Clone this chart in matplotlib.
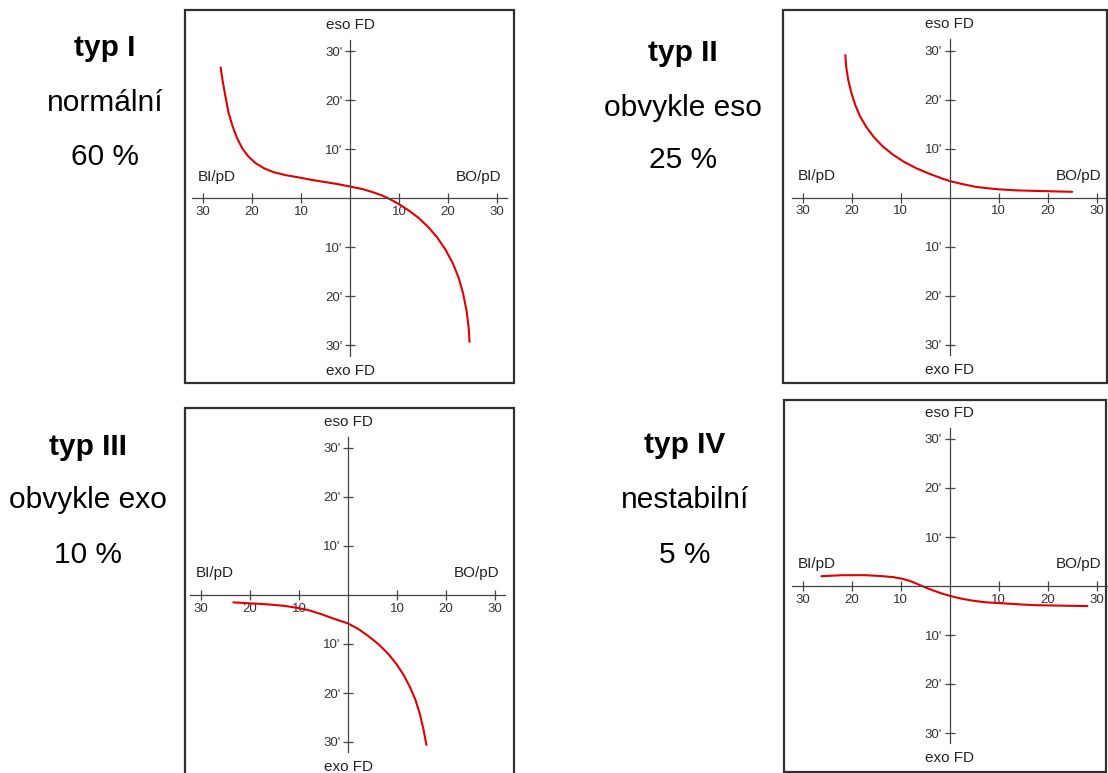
import matplotlib
matplotlib.use("Agg")
import matplotlib.pyplot as plt
from matplotlib.patches import Rectangle

plt.rcParams['font.family'] = ['Liberation Sans', 'DejaVu Sans']

W, H = 1108, 773

# labels next to each chart
titles = ["typ I", "typ II", "typ III", "typ IV"]
descriptions = ["normální", "obvykle eso", "obvykle exo", "nestabilní"]
percents = ["60 %", "25 %", "10 %", "5 %"]

# axis ticks (prism dioptres), shown without sign
xticks = [-30, -20, -10, 10, 20, 30]
xticklabels = ["30", "20", "10", "10", "20", "30"]
yticks = [-30, -20, -10, 10, 20, 30]
yticklabels = ["30'", "20'", "10'", "10'", "20'", "30'"]

# curves: x = BI(-)/BO(+) prism, y = eso(+)/exo(-) fixation disparity
typ1_x = [-26.4, -26.0, -25.4, -24.8, -24.0, -23.1, -22.0, -20.8, -19.3, -17.5, -15.5, -13.0,
          -10.1, -7.5, -5.0, -2.5, 0.0, 2.5, 4.5, 6.5, 8.0, 10.0, 12.0, 14.0, 16.0, 17.8,
          19.5, 21.0, 22.2, 23.1, 23.8, 24.2, 24.4]
typ1_y = [26.7, 24.0, 20.7, 17.5, 14.8, 12.4, 10.2, 8.6, 7.2, 6.1, 5.3, 4.7,
          4.2, 3.7, 3.3, 2.9, 2.4, 1.9, 1.3, 0.6, -0.1, -1.2, -2.5, -4.0, -5.9, -8.0,
          -10.5, -13.3, -16.3, -19.5, -23.0, -26.3, -29.3]

typ2_x = [-21.3, -21.1, -20.7, -20.1, -19.3, -18.3, -17.0, -15.5, -13.7, -11.6, -9.3, -6.8,
          -4.2, -1.5, 0.0, 2.5, 5.4, 8.0, 10.2, 13.5, 17.0, 21.0, 25.0]
typ2_y = [29.1, 26.5, 24.0, 21.5, 19.0, 16.6, 14.4, 12.4, 10.5, 8.8, 7.3, 6.0,
          4.9, 3.9, 3.4, 2.8, 2.2, 1.9, 1.7, 1.5, 1.4, 1.3, 1.2]

typ3_x = [-23.4, -20.0, -16.5, -13.1, -10.5, -8.0, -5.5, -3.0, 0.0, 2.2, 4.3, 6.3, 8.2,
          9.9, 11.4, 12.7, 13.8, 14.7, 15.4, 16.0]
typ3_y = [-1.5, -1.7, -1.9, -2.2, -2.6, -3.1, -3.9, -4.8, -5.8, -7.0, -8.5, -10.1, -12.0,
          -14.1, -16.4, -18.9, -21.5, -24.4, -27.4, -30.6]

typ4_x = [-26.2, -22.0, -17.0, -13.6, -11.5, -9.8, -8.3, -6.8, -5.2, -3.4, -1.7, 0.0,
          2.0, 4.1, 7.0, 10.2, 13.5, 17.0, 22.0, 28.1]
typ4_y = [2.0, 2.2, 2.2, 2.0, 1.8, 1.5, 1.1, 0.5, -0.2, -0.9, -1.5, -2.0,
          -2.5, -2.9, -3.3, -3.5, -3.7, -3.9, -4.0, -4.1]

curves = [(typ1_x, typ1_y), (typ2_x, typ2_y), (typ3_x, typ3_y), (typ4_x, typ4_y)]

# layout in pixels: box (left, top, right, bottom), origin (x, y), text centre x, text rows y
boxes = [(184.5, 10, 514, 383), (783.5, 10, 1107, 383), (184.5, 408, 514, 782), (784, 400, 1106, 772)]
origins = [(350, 198.3), (949.7, 197.7), (348, 595), (949.7, 586)]
text_x = [105, 683, 88, 685]
text_y = [(48, 103, 157), (53, 108, 160), (447, 500, 555), (445, 500, 555)]
ppu = 4.9  # pixels per unit

fig = plt.figure(figsize=(W / 100, H / 100), dpi=100)
axcol = "#444444"

for i in range(4):
    l, t, r, b = boxes[i]
    ox, oy = origins[i]
    ax = fig.add_axes([l / W, 1 - b / H, (r - l) / W, (b - t) / H])
    ax.set_xlim((l - ox) / ppu, (r - ox) / ppu)
    ax.set_ylim((oy - b) / ppu, (oy - t) / ppu)
    ax.patch.set_alpha(0)

    for s in ["top", "right"]:
        ax.spines[s].set_visible(False)
    ax.spines["left"].set_position(("data", 0))
    ax.spines["bottom"].set_position(("data", 0))
    ax.spines["left"].set_bounds(-32.1, 32.3)
    ax.spines["bottom"].set_bounds(-32.2, 32.1)
    for s in ["left", "bottom"]:
        ax.spines[s].set_color(axcol)
        ax.spines[s].set_linewidth(0.9)

    ax.set_xticks(xticks)
    ax.set_xticklabels(xticklabels)
    ax.set_yticks(yticks)
    ax.set_yticklabels(yticklabels)
    ax.tick_params(direction="inout", length=7, width=0.9, color=axcol,
                   labelsize=9.5, labelcolor="#333333", pad=2)

    ax.add_patch(Rectangle((0, 0), 1, 1, transform=ax.transAxes, fill=False,
                           edgecolor="#303030", linewidth=1.6, clip_on=False))

    ax.text(0, 35.4, "eso FD", ha="center", va="center", fontsize=11, color="#222222")
    ax.text(0, -35.2, "exo FD", ha="center", va="center", fontsize=11, color="#222222")
    ax.text(-27.2, 4.4, "BI/pD", ha="center", va="center", fontsize=11, color="#222222")
    ax.text(26.3, 4.4, "BO/pD", ha="center", va="center", fontsize=11, color="#222222")

    cx, cy = curves[i]
    ax.plot(cx, cy, color="#e00000", linewidth=1.5, solid_capstyle="round",
            solid_joinstyle="round")

    ty = text_y[i]
    fig.text(text_x[i] / W, 1 - ty[0] / H, titles[i], ha="center", va="center",
             fontsize=21.5, fontweight="bold")
    fig.text(text_x[i] / W, 1 - ty[1] / H, descriptions[i], ha="center", va="center",
             fontsize=21.5)
    fig.text(text_x[i] / W, 1 - ty[2] / H, percents[i], ha="center", va="center",
             fontsize=21.5)

fig.savefig("out.png", dpi=100)
